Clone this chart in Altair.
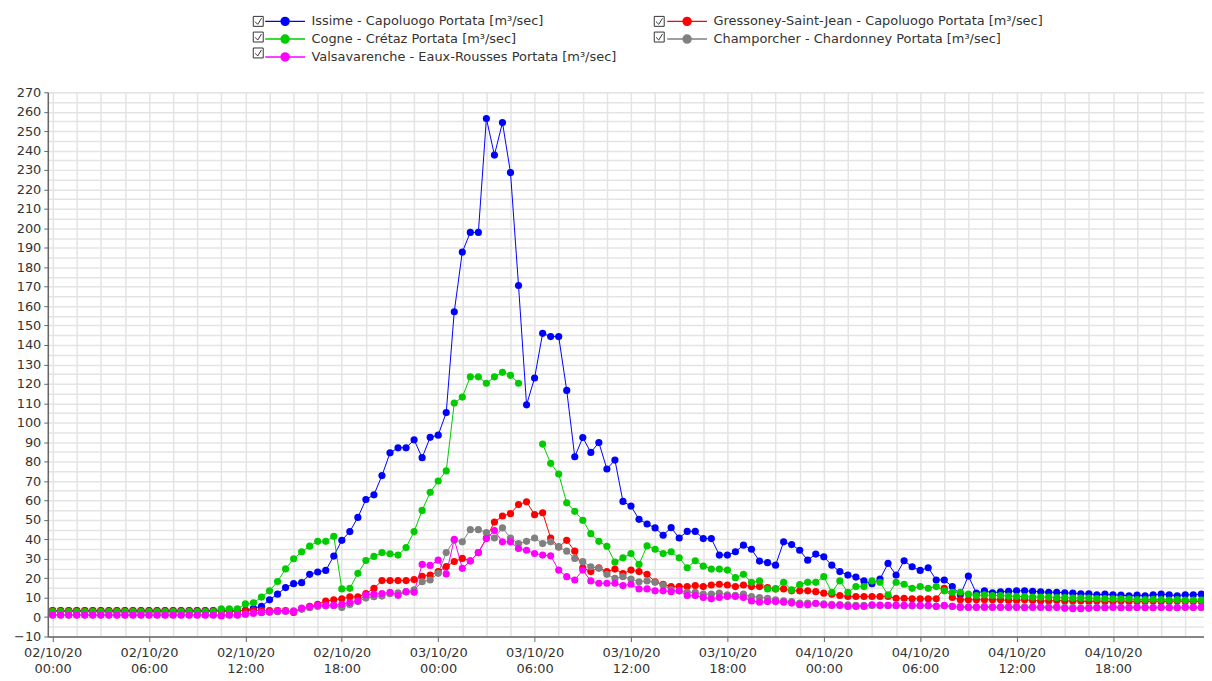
import altair as alt
import pandas as pd

# ---------------- data (30-minute steps) ----------------
SERIES = [
    "Issime - Capoluogo Portata [m³/sec]",
    "Gressoney-Saint-Jean - Capoluogo Portata [m³/sec]",
    "Cogne - Crétaz Portata [m³/sec]",
    "Champorcher - Chardonney Portata [m³/sec]",
    "Valsavarenche - Eaux-Rousses Portata [m³/sec]",
]
COLORS = ["#0000ff", "#ff0000", "#00cc00", "#808080", "#ff00ff"]
# legend fills its grid column by column: this order gives the reference's rows
LEGEND_ORDER = [0, 2, 4, 1, 3]

TIMES = pd.date_range("2020-10-02 00:00", periods=144, freq="30min").strftime("%Y-%m-%dT%H:%M:%SZ").tolist()

ISSIME = [
    3.3, 3.3, 3.3, 3.3, 3.3, 3.3, 3.3, 3.3, 3.3, 3.3, 3.3, 3.3,
    3.3, 3.3, 3.3, 3.3, 3.3, 3.3, 3.3, 3.3, 3.3, 3.3, 3.3, 3.3,
    3.5, 4.5, 5.5, 8.9, 11.8, 15.2, 17.2, 17.7, 22.0, 23.2,
    24.0, 31.4, 39.5, 44.0, 51.3, 60.5, 62.9, 72.8, 84.5, 87.1,
    87.1, 91.2, 82.0, 92.5, 93.6, 105.2, 157.1, 187.8, 197.9, 197.9,
    256.5, 237.7, 254.4, 228.7, 170.6, 109.2, 123.0, 146.0, 144.3, 144.3,
    116.6, 82.5, 92.4, 84.7, 89.8, 76.2, 80.8, 59.5, 57.1, 50.3,
    47.9, 45.9, 42.1, 46.0, 40.7, 44.1, 44.1, 40.4, 40.4, 31.9,
    31.9, 33.6, 37.0, 34.9, 28.8, 28.0, 26.7, 38.7, 37.3, 34.4,
    29.3, 32.4, 31.0, 26.7, 23.4, 21.6, 20.6, 18.6, 17.2, 19.6,
    27.6, 21.6, 29.0, 25.9, 24.0, 25.4, 19.1, 19.1, 15.7, 11.5,
    21.1, 12.3, 13.5, 12.5, 13.0, 13.2, 13.5, 13.5, 13.3, 13.0,
    12.8, 12.8, 12.5, 12.3, 12.0, 12.0, 11.5, 11.8, 11.5, 11.3,
    11.0, 11.3, 11.0, 11.5, 11.8, 11.5, 11.0, 11.5, 11.5, 11.8,
]
GRESSONEY = [
    3.2, 3.2, 3.2, 3.2, 3.2, 3.2, 3.2, 3.2, 3.2, 3.2, 3.2, 3.2,
    3.2, 3.2, 3.2, 3.2, 3.2, 3.2, 3.2, 3.2, 3.2, 3.2, 3.2, 3.2,
    3.3, 3.3, 3.3, 3.3, 3.3, 3.3, 2.4, 4.3, 5.5, 6.6,
    8.3, 8.9, 9.4, 10.4, 10.4, 12.1, 14.8, 18.8, 18.8, 18.8,
    18.8, 19.3, 21.0, 21.6, 23.4, 26.0, 28.6, 30.2, 29.0, 33.2,
    40.7, 48.9, 52.0, 53.2, 57.9, 59.3, 52.7, 53.7, 40.7, 36.1,
    39.5, 33.9, 25.4, 23.4, 25.4, 23.4, 24.7, 22.4, 24.2, 23.4,
    22.0, 18.2, 16.9, 15.7, 15.7, 15.7, 16.2, 15.7, 16.5, 16.9,
    16.5, 15.7, 16.5, 15.7, 15.7, 15.2, 14.5, 14.5, 13.5, 13.5,
    13.5, 13.1, 12.3, 11.8, 11.1, 10.6, 10.6, 10.6, 10.6, 10.6,
    10.6, 9.7, 9.7, 9.4, 9.4, 9.4, 9.4, 14.8, 10.1, 8.9,
    8.9, 8.9, 8.9, 8.9, 8.9, 8.6, 8.6, 8.9, 8.6, 8.3,
    8.3, 8.6, 8.3, 8.3, 8.3, 8.0, 8.3, 8.0, 8.0, 8.3,
    8.0, 8.0, 8.0, 8.3, 8.0, 8.0, 8.3, 8.0, 8.0, 8.0,
]
COGNE = [
    2.8, 2.8, 2.8, 2.8, 2.8, 2.8, 2.8, 2.8, 2.8, 2.8, 2.8, 2.8,
    2.8, 2.8, 2.8, 2.8, 2.8, 2.8, 2.8, 2.8, 2.8, 4.2, 4.2, 4.2,
    6.8, 7.4, 10.3, 13.5, 18.3, 24.8, 30.0, 33.6, 36.5, 39.0,
    39.0, 41.6, 14.5, 14.8, 22.5, 29.1, 31.2, 33.2, 32.6, 31.9,
    35.8, 44.0, 54.9, 64.2, 70.0, 75.2, 110.1, 113.2, 123.6, 123.6,
    120.3, 123.6, 125.9, 124.4, 120.3, None, None, 89.0, 79.1, 73.6,
    58.8, 54.4, 49.8, 42.9, 39.0, 36.4, 28.3, 30.5, 32.7, 27.1,
    36.6, 34.9, 32.7, 33.6, 30.5, 25.4, 29.0, 26.2, 24.7, 24.7,
    24.2, 20.3, 22.0, 17.9, 18.6, 14.5, 14.5, 17.9, 14.0, 16.7,
    17.9, 17.9, 20.8, 12.8, 18.6, 12.8, 15.7, 15.7, 18.6, 17.9,
    11.4, 17.9, 16.9, 14.8, 15.7, 14.8, 15.7, 13.5, 12.8, 12.8,
    11.8, 11.1, 11.4, 11.1, 11.1, 10.8, 10.6, 10.6, 10.3, 10.3,
    10.3, 10.0, 10.0, 9.8, 9.8, 9.8, 9.5, 9.5, 9.4, 9.4,
    9.4, 9.0, 9.0, 9.2, 9.0, 8.8, 9.0, 8.8, 8.8, 8.8,
]
CHAMPORCHER = [
    1.2, 1.2, 1.2, 1.2, 1.2, 1.2, 1.2, 1.2, 1.2, 1.2, 1.2, 1.2,
    1.2, 1.2, 1.2, 1.2, 1.2, 1.2, 1.2, 1.2, 1.2, 1.2, 1.2, 1.2,
    1.5, 2.0, 2.3, 2.5, 2.8, 3.0, 3.2, 4.0, 4.8, 5.5,
    5.8, 6.0, 5.0, 6.5, 8.0, 9.8, 10.5, 10.8, 12.0, 12.5,
    13.0, 14.0, 18.2, 19.1, 22.5, 33.2, 39.5, 38.7, 45.0, 45.0,
    43.5, 40.7, 45.9, 40.7, 37.8, 39.0, 40.7, 37.8, 38.7, 36.1,
    33.9, 30.2, 28.5, 25.9, 25.1, 22.0, 19.9, 20.8, 19.6, 18.2,
    18.6, 17.9, 16.5, 14.0, 13.5, 12.8, 12.8, 11.8, 11.8, 12.3,
    11.5, 11.2, 11.8, 10.6, 10.1, 9.7, 8.9, 8.4, 8.0, 7.2,
    7.2, 7.0, 6.8, 6.6, 6.5, 6.3, 6.0, 6.0, 6.0, 6.2,
    6.0, 6.0, 5.8, 5.8, 5.8, 5.8, 5.6, 5.8, 5.6, 5.5,
    5.3, 5.3, 5.5, 5.3, 5.3, 5.3, 5.5, 5.3, 5.3, 5.2,
    5.2, 5.3, 5.0, 5.0, 4.8, 5.0, 5.0, 5.0, 5.2, 5.0,
    5.0, 5.0, 5.2, 5.0, 5.0, 5.0, 5.0, 5.2, 5.0, 5.0,
]
VALSAVARENCHE = [
    1.0, 1.0, 1.0, 1.0, 1.0, 1.0, 1.0, 1.0, 1.0, 1.0, 1.0, 1.0,
    1.0, 1.0, 1.0, 1.0, 1.0, 1.0, 1.0, 1.0, 1.0, 0.6, 1.0, 1.0,
    1.5, 2.0, 2.4, 2.6, 3.2, 3.0, 2.9, 4.6, 5.3, 6.0,
    6.0, 6.0, 6.6, 7.5, 8.3, 11.4, 11.8, 12.1, 12.8, 11.2,
    13.1, 12.8, 27.1, 26.6, 29.3, 22.2, 40.0, 25.1, 28.8, 33.2,
    40.4, 44.5, 38.7, 38.7, 35.3, 34.4, 32.7, 31.9, 31.5, 24.2,
    20.8, 19.1, 24.2, 18.6, 17.4, 17.4, 17.4, 16.2, 16.9, 14.5,
    14.5, 13.5, 13.5, 13.1, 13.5, 11.1, 11.1, 10.1, 9.4, 10.1,
    10.6, 10.6, 10.1, 8.3, 7.7, 8.0, 8.0, 7.7, 7.2, 6.4,
    6.3, 7.1, 6.3, 6.0, 6.0, 5.5, 5.5, 5.5, 6.3, 6.0,
    6.0, 6.0, 6.0, 6.0, 6.0, 6.0, 5.5, 6.0, 5.5, 5.0,
    5.0, 5.0, 5.0, 5.0, 5.0, 5.0, 5.0, 4.8, 5.0, 5.0,
    4.8, 5.0, 4.5, 4.3, 4.3, 4.5, 4.8, 4.8, 5.0, 4.8,
    4.8, 5.0, 4.8, 4.8, 5.0, 4.8, 4.8, 5.0, 5.0, 5.0,
]
VALUES = [ISSIME, GRESSONEY, COGNE, CHAMPORCHER, VALSAVARENCHE]

Y_TICKS = list(range(-10, 271, 10))
Y_GRID = list(range(-10, 271, 5))

# ---------------- table ----------------
rows = []
for name, vals in zip(SERIES, VALUES):
    assert len(vals) == len(TIMES)
    for t, v in zip(TIMES, vals):
        rows.append({"time": t, "series": name, "cb": name, "value": v})
df = pd.DataFrame(rows)

FONT = "DejaVu Sans"
FS = 13


def dt(day, h, m=0):
    return alt.DateTime(year=2020, month=10, date=day, hours=h, minutes=m, utc=True)


x_ticks = [dt(2 + k * 6 // 24, (k * 6) % 24) for k in range(12)]
x_grid = [dt(2 + (k * 90) // 1440, ((k * 90) % 1440) // 60, (k * 90) % 60) for k in range(48)]

x_scale = alt.Scale(type="utc", domain=[dt(1, 23, 42), dt(4, 23, 40)])
y_scale = alt.Scale(domain=[-10, 270], nice=False, zero=False)
leg_domain = [SERIES[i] for i in LEGEND_ORDER]
leg_range = [COLORS[i] for i in LEGEND_ORDER]
col_scale = alt.Scale(domain=leg_domain, range=leg_range)

GRID_COLOR = "#e4e4e4"

# legend symbol paths (unit = 5 px with symbolSize 100)
LINE_DOT = "M-6.4,-1M-6.4,1M-4,0H4M0.8,0A0.8,0.8,0,1,1,-0.8,0A0.8,0.8,0,1,1,0.8,0"
CHECKBOX = "M4,0M-6.4,-1H-4.4V1H-6.4ZM-6.05,0.05L-5.5,0.6L-4.75,-0.6"

LX, LY = 200, -78
leg_common = dict(
    orient="none", legendY=LY, columns=2, title=None, padding=0,
    labelFont=FONT, labelFontSize=FS, labelColor="#333333", labelLimit=600,
    symbolSize=100, symbolOffset=32, labelOffset=20, symbolOpacity=1,
)

color_legend = alt.Legend(symbolType=LINE_DOT, symbolStrokeWidth=1.5, legendX=LX,
                          rowPadding=1, columnPadding=32, **leg_common)
# checkbox column: same grid, no label text (its column gap is widened instead)
check_legend = alt.Legend(symbolStrokeWidth=1, symbolStrokeColor="#333333",
                          symbolFillColor="#eeeeee", labelExpr="''", legendX=LX,
                          rowPadding=1, columnPadding=338, **leg_common)

base = alt.Chart(df)

grid_layer = base.mark_point(opacity=0, size=4).encode(
    x=alt.X("time:T", scale=x_scale,
            axis=alt.Axis(orient="top", values=x_grid, grid=True, labels=False, ticks=False,
                          domain=False, title=None, gridColor=GRID_COLOR, gridWidth=1.5)),
    y=alt.Y("value:Q", scale=y_scale,
            axis=alt.Axis(orient="right", values=Y_GRID, grid=True, labels=False, ticks=False,
                          domain=False, title=None, gridColor=GRID_COLOR, gridWidth=1.5)),
    shape=alt.Shape("cb:N", sort=leg_domain, scale=alt.Scale(range=[CHECKBOX] * 5), legend=check_legend),
)

lines = base.mark_line(strokeWidth=1).encode(
    x=alt.X("time:T", scale=x_scale,
            axis=alt.Axis(orient="bottom", values=x_ticks, grid=False, title=None,
                          labelExpr="[utcFormat(datum.value, '%d/%m/%y'), utcFormat(datum.value, '%H:%M')]",
                          labelFont=FONT, labelFontSize=FS, labelColor="#333333", labelLineHeight=16,
                          tickSize=5, tickColor="#666666", domainColor="#666666", domainWidth=1.5,
                          labelPadding=5, labelOverlap=False, labelFlush=False)),
    y=alt.Y("value:Q", scale=y_scale,
            axis=alt.Axis(orient="left", values=Y_TICKS, grid=False, title=None,
                          labelFont=FONT, labelFontSize=FS, labelColor="#333333",
                          tickSize=4, tickColor="#666666", domainColor="#666666", domainWidth=1.5,
                          labelPadding=3, labelOverlap=False, labelFlush=False)),
    stroke=alt.Stroke("series:N", scale=col_scale, legend=color_legend),
    order=alt.Order("time:T"),
)

points = base.mark_point(filled=True, size=52, opacity=1).encode(
    x=alt.X("time:T", scale=x_scale, axis=None),
    y=alt.Y("value:Q", scale=y_scale, axis=None),
    fill=alt.Fill("series:N", scale=col_scale, legend=color_legend),
)

chart = alt.layer(grid_layer, lines, points).properties(
    width=1162, height=547,
    autosize=alt.AutoSizeParams(type="none"),
    padding={"left": 40, "top": 83, "right": 0, "bottom": 44},
).configure_view(stroke=None).configure(background="white")

chart.save("out.html", embed_options={"renderer": "svg", "actions": False})
